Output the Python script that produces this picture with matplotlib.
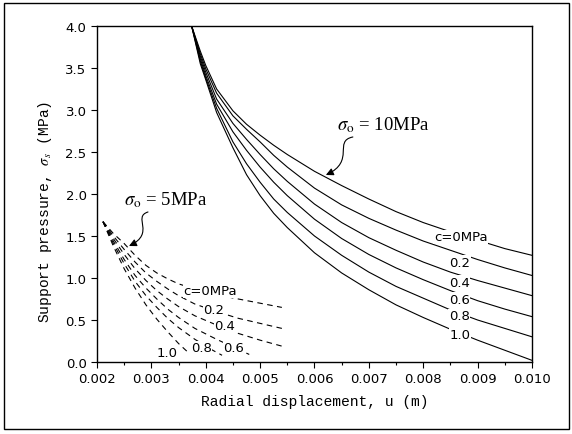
import matplotlib
matplotlib.use('Agg')
import matplotlib.pyplot as plt
from matplotlib.patches import Rectangle, FancyArrowPatch
from matplotlib.path import Path

plt.rcParams['mathtext.fontset'] = 'stix'

# data : sigma_o = 10 MPa (solid)
#
c_labels = ['c=0MPa', '0.2', '0.4', '0.6', '0.8', '1.0']

u10 = [0.00374, 0.0039, 0.0040, 0.0042, 0.0045, 0.00475, 0.0050, 0.00525, 0.0055, 0.0060,
       0.0065, 0.0070, 0.0075, 0.0080, 0.0085, 0.0090, 0.0095, 0.0100]
s10 = [
    [4.0, 3.70, 3.53, 3.25, 2.99, 2.83, 2.70, 2.58, 2.47, 2.27, 2.10, 1.94, 1.79, 1.66, 1.55, 1.45, 1.35, 1.27],
    [4.0, 3.67, 3.49, 3.20, 2.93, 2.77, 2.62, 2.46, 2.32, 2.07, 1.87, 1.71, 1.57, 1.44, 1.33, 1.22, 1.12, 1.03],
    [4.0, 3.64, 3.45, 3.13, 2.84, 2.65, 2.47, 2.30, 2.15, 1.88, 1.66, 1.48, 1.33, 1.19, 1.07, 0.97, 0.88, 0.79],
    [4.0, 3.61, 3.41, 3.07, 2.74, 2.52, 2.32, 2.14, 1.98, 1.70, 1.47, 1.28, 1.12, 0.98, 0.85, 0.73, 0.63, 0.54],
    [4.0, 3.58, 3.38, 3.02, 2.62, 2.36, 2.14, 1.94, 1.78, 1.50, 1.27, 1.07, 0.90, 0.76, 0.62, 0.50, 0.40, 0.30],
    [4.0, 3.55, 3.36, 2.97, 2.55, 2.23, 1.98, 1.77, 1.60, 1.30, 1.06, 0.86, 0.68, 0.53, 0.39, 0.26, 0.14, 0.02],
]
lab10_u = [0.00869, 0.00867, 0.00866, 0.00866, 0.00866, 0.00868]
lab10_s = [1.49, 1.19, 0.95, 0.75, 0.55, 0.33]

# data : sigma_o = 5 MPa (dashed)
#
u5 = [
    [0.00211, 0.0023, 0.0025, 0.0027, 0.0029, 0.0031, 0.0033, 0.0035, 0.0038, 0.0042, 0.0046, 0.0050, 0.0054],
    [0.00211, 0.0023, 0.0025, 0.0027, 0.0029, 0.0031, 0.0033, 0.0035, 0.0038, 0.0042, 0.0046, 0.0050, 0.0054],
    [0.00211, 0.0023, 0.0025, 0.0027, 0.0029, 0.0031, 0.0033, 0.0035, 0.0038, 0.0042, 0.0046, 0.0050, 0.00545],
    [0.00211, 0.0023, 0.0025, 0.0027, 0.0029, 0.0031, 0.0033, 0.0035, 0.0038, 0.0042, 0.0045, 0.0048],
    [0.00211, 0.0023, 0.0025, 0.0027, 0.0029, 0.0031, 0.0033, 0.0035, 0.0038, 0.0041, 0.0043],
    [0.00211, 0.0023, 0.0025, 0.0027, 0.0029, 0.0031, 0.0033, 0.0035, 0.0037],
]
s5 = [
    [1.67, 1.53, 1.41, 1.27, 1.15, 1.06, 0.99, 0.93, 0.87, 0.80, 0.75, 0.70, 0.65],
    [1.67, 1.50, 1.34, 1.19, 1.06, 0.96, 0.87, 0.79, 0.69, 0.60, 0.52, 0.46, 0.40],
    [1.67, 1.47, 1.28, 1.11, 0.97, 0.85, 0.75, 0.66, 0.55, 0.44, 0.34, 0.26, 0.18],
    [1.67, 1.44, 1.22, 1.03, 0.88, 0.75, 0.63, 0.53, 0.40, 0.27, 0.18, 0.09],
    [1.67, 1.41, 1.17, 0.96, 0.79, 0.65, 0.52, 0.41, 0.27, 0.15, 0.08],
    [1.67, 1.38, 1.11, 0.88, 0.68, 0.51, 0.36, 0.22, 0.10],
]
lab5_text = ['c=0MPa', '0.2', '0.4', '0.6', '0.8', '1.0']
lab5_u = [0.00408, 0.00415, 0.00435, 0.00452, 0.00392, 0.00329]
lab5_s = [0.85, 0.63, 0.43, 0.17, 0.17, 0.11]

# plot
#
fig = plt.figure(figsize=(5.72, 4.35), dpi=100)
fig.patches.append(Rectangle((0.007, 0.011), 0.988, 0.98, transform=fig.transFigure,
                             fill=False, edgecolor='black', linewidth=1.0))
ax = fig.add_axes([0.1696, 0.1655, 0.7604, 0.7725])

for s in s10:
    ax.plot(u10, s, color='black', linewidth=0.8)

for u, s in zip(u5, s5):
    ax.plot(u, s, color='black', linewidth=0.8, dashes=(5, 4))

box = dict(facecolor='white', edgecolor='none', pad=0.5)
for t, x, y in zip(c_labels, lab10_u, lab10_s):
    ax.text(x, y, t, fontsize=9.5, ha='center', va='center', bbox=box, zorder=5)
for t, x, y in zip(lab5_text, lab5_u, lab5_s):
    ax.text(x, y, t, fontsize=9.5, ha='center', va='center', bbox=box, zorder=5)

# annotations
#
ax.text(0.00642, 2.83, r'$\sigma_{\mathrm{o}}$ = 10MPa', fontsize=13.5,
        family='Liberation Serif', ha='left', va='center')
ax.text(0.00250, 1.94, r'$\sigma_{\mathrm{o}}$ = 5MPa', fontsize=13.5,
        family='Liberation Serif', ha='left', va='center')

def px(x, y):
    return (0.002 + (x - 97) / 54400.0, (363 - y) / 84.0)

codes = [Path.MOVETO, Path.CURVE4, Path.CURVE4, Path.CURVE4]
p10 = Path([px(353, 138), px(333, 142), px(356, 162), px(326, 176)], codes)
p5 = Path([px(148, 213), px(132, 218), px(156, 234), px(129, 247)], codes)
for p in (p10, p5):
    ax.add_patch(FancyArrowPatch(path=p, arrowstyle='-|>', mutation_scale=11,
                                 color='black', linewidth=0.8))

# axes
#
ax.set_xlim(0.002, 0.010)
ax.set_ylim(0.0, 4.0)
ax.set_xticks([0.002, 0.003, 0.004, 0.005, 0.006, 0.007, 0.008, 0.009, 0.010])
ax.set_xticks([0.0025, 0.0035, 0.0045, 0.0055, 0.0065, 0.0075, 0.0085, 0.0095], minor=True)
ax.set_xticklabels(['0.002', '0.003', '0.004', '0.005', '0.006', '0.007', '0.008', '0.009', '0.010'])
ax.set_yticks([0.0, 0.5, 1.0, 1.5, 2.0, 2.5, 3.0, 3.5, 4.0])
ax.set_yticklabels(['0.0', '0.5', '1.0', '1.5', '2.0', '2.5', '3.0', '3.5', '4.0'])
ax.tick_params(labelsize=9.5, direction='out', length=4, width=0.8)
ax.tick_params(which='minor', length=2.5, width=0.8)
for sp in ax.spines.values():
    sp.set_linewidth(1.0)

ax.set_xlabel('Radial displacement, u (m)', family='Liberation Mono', fontsize=10.5, labelpad=6)
ax.set_ylabel(r'Support pressure, $\sigma_s$ (MPa)', family='Liberation Mono', fontsize=10.5, labelpad=8)
ax.yaxis.set_label_coords(-0.1, 0.45)

plt.savefig('out.png', dpi=100)
